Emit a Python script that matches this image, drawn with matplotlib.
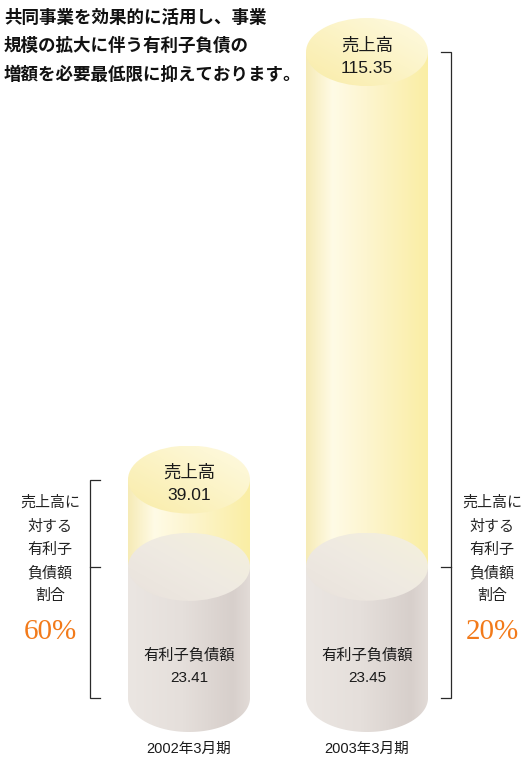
import numpy as np
import matplotlib
matplotlib.use("Agg")
import matplotlib.pyplot as plt
from matplotlib.patches import Ellipse, Polygon, Rectangle
from matplotlib.colors import LinearSegmentedColormap

# data
periods = ["2002年3月期", "2003年3月期"]
sales = [39.01, 115.35]
debt = [23.41, 23.45]
intro = ["共同事業を効果的に活用し、事業",
         "規模の拡大に伴う有利子負債の",
         "増額を必要最低限に抑えております。"]
side_lines = ["売上高に", "対する", "有利子", "負債額", "割合"]

plt.rcParams['font.family'] = ['Liberation Sans', 'Noto Sans CJK JP', 'DejaVu Sans']

W, H = 527, 759
fig = plt.figure(figsize=(W / 100, H / 100), dpi=100)
ax = fig.add_axes([0, 0, 1, 1])
ax.axis('off')

# layout: category step and value scale in pixels
STEP = 178.0      # px between cylinders
X0 = 189.0        # px centre of first cylinder
BASE = 698.0      # px (from top) of value 0
SC = 5.6          # px per unit
ax.set_xlim(-X0 / STEP, (W - X0) / STEP)
ax.set_ylim(-(H - BASE) / SC, BASE / SC)


def px(xp, yp):
    """pixel (from top-left) -> data coords"""
    return (xp - X0) / STEP, (BASE - yp) / SC


hw = 61 / STEP          # half width of cylinder
eb = 34 / SC            # vertical semi-axis of ellipses


def gradient_fill(patch, extent, colors, stops, direction='h', z=1):
    ax.add_patch(patch)
    cmap = LinearSegmentedColormap.from_list('g', list(zip(stops, colors)))
    g = np.linspace(0, 1, 256)
    if direction == 'h':
        img = cmap(g)[None, :, :]
    else:  # diagonal, lower-left -> upper-right
        xx, yy = np.meshgrid(g, g)
        img = cmap((xx + yy) / 2)
    im = ax.imshow(img, extent=extent, origin='lower', aspect='auto',
                   interpolation='bicubic', zorder=z)
    im.set_clip_path(patch)


for i in range(len(periods)):
    x = i
    s, d = sales[i], debt[i]
    # yellow side (sales)
    rect = Rectangle((x - hw, d), 2 * hw, s - d, fc='none', ec='none', zorder=1)
    gradient_fill(rect, (x - hw, x + hw, d, s),
                  ['#f6ebb6', '#fffbe6', '#fdf5cf', '#faeea4'],
                  [0, 0.22, 0.5, 1], z=1)
    # yellow top
    top = Ellipse((x, s), 2 * hw, 2 * eb, fc='none', ec='none', zorder=2)
    gradient_fill(top, (x - hw, x + hw, s - eb, s + eb),
                  ['#f9eca8', '#fcf4c8', '#fefae2'],
                  [0, 0.55, 1], direction='d', z=2)
    # grey body with rounded bottom
    t = np.linspace(np.pi, 2 * np.pi, 80)
    pts = [(x - hw, d)] + list(zip(x + hw * np.cos(t), eb * np.sin(t))) + [(x + hw, d)]
    body = Polygon(pts, closed=True, fc='none', ec='none', zorder=3)
    gradient_fill(body, (x - hw, x + hw, -eb, d),
                  ['#ebe6e2', '#e5dfdb', '#d7cfcb', '#e2dbd7'],
                  [0, 0.45, 0.86, 1], z=3)
    # grey top
    gtop = Ellipse((x, d), 2 * hw, 2 * eb, fc='none', ec='none', zorder=4)
    gradient_fill(gtop, (x - hw, x + hw, d - eb, d + eb),
                  ['#e9e2dc', '#efeae2', '#f5f1db'],
                  [0, 0.5, 1], direction='d', z=4)

    # labels on cylinder
    ty = BASE - s * SC
    ax.text(*px(X0 + STEP * i, ty - 7), "売上高", ha='center', va='center',
            fontsize=12.5, color='#1a1a1a', zorder=6)
    ax.text(*px(X0 + STEP * i, ty + 16), f"{s:.2f}", ha='center', va='center',
            fontsize=12.5, color='#1a1a1a', zorder=6)
    ax.text(*px(X0 + STEP * i, BASE - 43), "有利子負債額", ha='center', va='center',
            fontsize=11, color='#1a1a1a', zorder=6)
    ax.text(*px(X0 + STEP * i, BASE - 20), f"{d:.2f}", ha='center', va='center',
            fontsize=11, color='#1a1a1a', zorder=6)
    ax.text(*px(X0 + STEP * i, 749), periods[i], ha='center', va='center',
            fontsize=10.5, color='#1a1a1a', zorder=6)

# brackets + ratio text
brackets = [(90, 100, 50), (451, 441, 492)]
for i, (bx, tx, cx) in enumerate(brackets):
    xb = (bx - X0) / STEP
    xt = (tx - X0) / STEP
    ax.plot([xt, xb, xb, xt], [0, 0, sales[i], sales[i]], color='#2a2a2a', lw=0.9,
            solid_joinstyle='miter', zorder=5)
    ax.plot([xb, xt], [debt[i], debt[i]], color='#2a2a2a', lw=0.9, zorder=5)
    for k, line in enumerate(side_lines):
        ax.text(*px(cx, 503 + 23.3 * k), line, ha='center', va='center',
                fontsize=10.8, color='#222222')
    ax.text(*px(cx, 632), f"{round(debt[i] / sales[i] * 100 / 10) * 10:.0f}%",
            ha='center', va='center', fontsize=21, color='#f27a1a',
            family=['Liberation Serif', 'DejaVu Serif'])

# intro text
for k, line in enumerate(intro):
    ax.text(*px(4, 17.5 + 28.8 * k), line, ha='left', va='center', fontsize=12.6,
            color='#111111', family=['Noto Sans CJK JP'], fontweight='bold')

fig.savefig("out.png", dpi=100)
